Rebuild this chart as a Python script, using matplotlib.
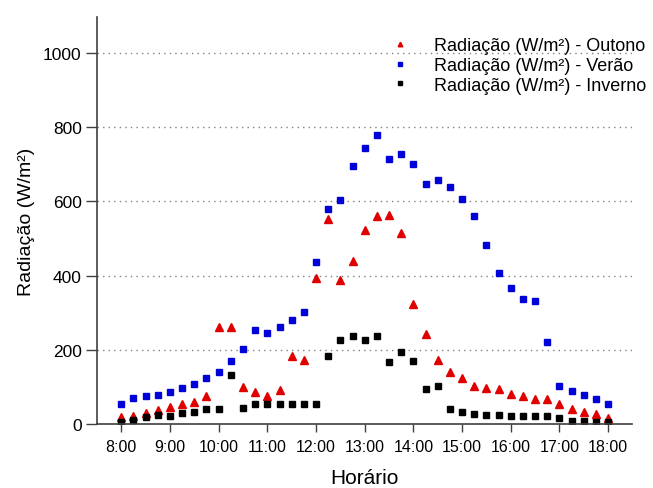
import matplotlib.pyplot as plt

# horarios (intervalos de 15 min)
horarios = ["8:00", "8:15", "8:30", "8:45", "9:00", "9:15", "9:30", "9:45",
            "10:00", "10:15", "10:30", "10:45", "11:00", "11:15", "11:30", "11:45",
            "12:00", "12:15", "12:30", "12:45", "13:00", "13:15", "13:30", "13:45",
            "14:00", "14:15", "14:30", "14:45", "15:00", "15:15", "15:30", "15:45",
            "16:00", "16:15", "16:30", "16:45", "17:00", "17:15", "17:30", "17:45",
            "18:00"]

outono = [18, 22, 30, 38, 47, 53, 58, 74, 261, 261, 99, 85, 76, 92, 184, 173,
          393, 552, 388, 440, 524, 560, 564, 514, 323, 242, 173, 140, 123, 102,
          98, 94, 82, 74, 67, 66, 55, 40, 32, 28, 16]

verao = [54, 70, 76, 78, 85, 97, 109, 123, 139, 169, 202, 254, 244, 261, 280, 301,
         437, 580, 605, 695, 745, 780, 714, 728, 700, 647, 658, 638, 606, 561,
         482, 407, 367, 337, 332, 222, 101, 88, 78, 66, 53]

inverno = [5, 10, 18, 25, 21, 29, 32, 39, 39, 132, 42, 53, 55, 55, 55, 55,
           55, 184, 225, 236, 225, 236, 168, 195, 171, 94, 102, 40, 32, 26,
           23, 24, 22, 22, 21, 21, 17, 9, 9, 5, 5]

ticks_x = ["8:00", "9:00", "10:00", "11:00", "12:00", "13:00", "14:00",
           "15:00", "16:00", "17:00", "18:00"]


def em_horas(h):
    hh, mm = h.split(":")
    return int(hh) + int(mm) / 60.0


x = [em_horas(h) for h in horarios]

plt.rcParams['font.family'] = ['Liberation Sans', 'DejaVu Sans']

fig = plt.figure(figsize=(6.53, 4.89), dpi=100)
ax = fig.add_axes([0.1485, 0.131, 0.82, 0.832])

ax.plot(x, outono, linestyle='none', marker='^', color='#e00000', markersize=5.5,
        label='Radiação (W/m²) - Outono')
ax.plot(x, verao, linestyle='none', marker='s', color='#0000d8', markersize=4,
        label='Radiação (W/m²) - Verão')
ax.plot(x, inverno, linestyle='none', marker='s', color='black', markersize=4,
        label='Radiação (W/m²) - Inverno')

ax.set_xlim(7.5, 18.5)
ax.set_ylim(0, 1097)
ax.set_xticks([em_horas(t) for t in ticks_x])
ax.set_xticklabels(ticks_x)
ax.set_yticks([0, 200, 400, 600, 800, 1000])

for v in [200, 400, 600, 800, 1000]:
    ax.axhline(v, color='#808080', linestyle=(0, (1, 3)), linewidth=1, zorder=0)

ax.spines['top'].set_visible(False)
ax.spines['right'].set_visible(False)
for s in ['left', 'bottom']:
    ax.spines[s].set_color('#404040')
    ax.spines[s].set_linewidth(1.2)

ax.tick_params(axis='y', direction='out', length=8, width=1, colors='#404040',
               labelsize=12.5, labelcolor='black', pad=3)
ax.tick_params(axis='x', direction='out', length=6, width=1, colors='#404040',
               labelsize=11.5, labelcolor='black', pad=5)

ax.set_xlabel('Horário', fontsize=15, labelpad=10)
ax.set_ylabel('Radiação (W/m²)', fontsize=14, labelpad=6)

ax.legend(loc='upper right', bbox_to_anchor=(1.04, 0.968), frameon=False,
          fontsize=13, markerscale=0.6, handletextpad=0.9, labelspacing=0.15,
          borderaxespad=0)

fig.savefig('out.png', dpi=100)
